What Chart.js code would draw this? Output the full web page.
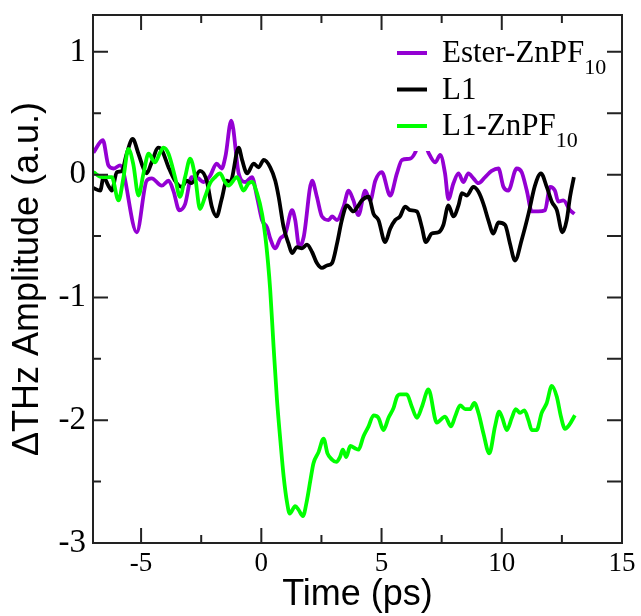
<!DOCTYPE html>
<html>
<head>
<meta charset="utf-8">
<script src="https://cdn.jsdelivr.net/npm/chart.js@4"></script>
<style>
  body { margin: 0; background: #fff; }
  #wrap { width: 641px; height: 616px; }
</style>
</head>
<body>
<div id="wrap"><canvas id="grafico"></canvas></div>
<script>
// Ester-ZnPF10 (purple)
const xEster = [-6.98,-6.59,-6.36,-6.15,-5.87,-5.18,-4.77,-4.56,-4.14,-3.86,-3.66,-3.41,-3.17,-2.90,-2.62,-2.41,-2.13,-1.86,-1.65,-1.49,-1.25,-0.94,-0.66,-0.39,-0.18,0.03,0.24,0.37,0.58,0.79,1.00,1.28,1.41,1.58,1.76,2.11,2.31,2.52,2.80,2.94,3.15,3.42,3.63,3.83,4.04,4.32,4.53,4.74,5.01,5.36,5.64,5.85,6.19,6.40,6.65,6.95,7.23,7.44,7.64,7.78,7.99,8.20,8.40,8.61,8.82,9.03,9.31,9.58,9.86,10.07,10.27,10.62,10.83,11.04,11.25,11.52,11.80,12.01,12.21,12.35,12.56,12.84,13.02];
const yEster = [0.18,0.28,0.075,0.05,0.075,-0.47,-0.05,-0.03,-0.09,-0.05,-0.13,-0.29,-0.24,-0.02,-0.03,-0.06,-0.01,0.09,0.05,0.15,0.44,0.01,-0.06,-0.02,-0.18,-0.37,-0.43,-0.52,-0.60,-0.52,-0.48,-0.29,-0.37,-0.59,-0.51,-0.05,-0.18,-0.34,-0.37,-0.34,-0.37,-0.26,-0.13,-0.21,-0.33,-0.13,-0.21,-0.05,0.02,-0.17,0.01,0.12,0.13,0.18,0.32,0.18,0.10,0.16,0.01,-0.20,-0.07,0.01,-0.06,0.01,-0.03,-0.07,-0.02,0.03,0.05,-0.10,-0.13,0.05,0.02,-0.13,-0.30,-0.30,-0.29,-0.10,-0.13,-0.22,-0.21,-0.29,-0.32];

// L1 (black)
const xL1 = [-6.98,-6.70,-6.56,-6.36,-6.22,-6.01,-5.80,-5.60,-5.35,-5.11,-4.90,-4.77,-4.56,-4.28,-4.14,-3.86,-3.59,-3.31,-3.10,-2.90,-2.55,-2.27,-2.06,-1.86,-1.65,-1.44,-1.29,-0.94,-0.80,-0.59,-0.32,-0.11,0.10,0.37,0.58,0.72,0.93,1.13,1.28,1.48,1.69,1.90,2.11,2.31,2.52,2.73,2.94,3.15,3.35,3.56,3.83,4.04,4.18,4.46,4.67,4.87,5.15,5.36,5.57,5.77,5.98,6.19,6.47,6.68,6.84,7.09,7.37,7.57,7.78,7.99,8.20,8.34,8.55,8.82,9.03,9.24,9.44,9.65,9.86,10.14,10.34,10.55,10.83,11.11,11.38,11.63,11.87,12.08,12.29,12.52,12.70,12.84,13.00];
const yL1 = [-0.11,-0.13,-0.02,-0.09,-0.13,0.02,0.03,0.17,0.29,0.17,0.05,0.01,0.10,0.22,0.20,0.06,-0.05,-0.10,-0.05,-0.07,0.03,-0.05,-0.26,-0.34,-0.20,-0.05,-0.06,0.22,0.12,0.01,0.09,0.06,0.12,0.06,-0.05,-0.18,-0.43,-0.56,-0.64,-0.59,-0.60,-0.57,-0.63,-0.72,-0.76,-0.74,-0.72,-0.56,-0.37,-0.25,-0.30,-0.25,-0.21,-0.18,-0.32,-0.37,-0.55,-0.44,-0.37,-0.34,-0.26,-0.29,-0.30,-0.43,-0.55,-0.48,-0.47,-0.41,-0.25,-0.34,-0.25,-0.15,-0.17,-0.10,-0.14,-0.24,-0.37,-0.48,-0.39,-0.41,-0.56,-0.70,-0.53,-0.32,-0.09,0.01,-0.10,-0.22,-0.29,-0.47,-0.37,-0.18,-0.02];

// L1-ZnPF10 (green)
const xL1Zn = [-6.98,-6.63,-6.22,-5.94,-5.73,-5.53,-5.32,-5.11,-4.90,-4.69,-4.42,-4.21,-4.07,-3.86,-3.59,-3.38,-3.17,-2.96,-2.75,-2.55,-2.34,-2.13,-1.92,-1.72,-1.51,-1.37,-1.01,-0.74,-0.53,-0.39,-0.18,0.03,0.17,0.28,0.37,0.51,0.65,0.79,0.93,1.07,1.18,1.41,1.55,1.73,1.90,2.04,2.17,2.38,2.59,2.75,2.94,3.12,3.27,3.39,3.53,3.70,3.91,4.04,4.25,4.46,4.67,4.87,5.08,5.29,5.50,5.64,5.77,6.05,6.26,6.47,6.68,6.95,7.30,7.64,7.89,8.06,8.27,8.48,8.68,8.86,9.03,9.24,9.48,9.72,9.89,10.02,10.21,10.42,10.58,10.76,10.94,11.11,11.25,11.45,11.66,11.87,12.08,12.29,12.46,12.63,12.80,13.04];
const yL1Zn = [0.02,-0.02,-0.02,-0.21,-0.02,0.21,0.08,-0.17,0.01,0.17,0.10,0.18,0.22,0.17,-0.02,-0.18,-0.02,0.13,-0.02,-0.28,-0.18,-0.07,-0.02,0.01,-0.06,-0.09,-0.02,-0.13,-0.07,-0.06,-0.15,-0.32,-0.51,-0.72,-0.94,-1.40,-1.83,-2.16,-2.46,-2.67,-2.76,-2.70,-2.73,-2.78,-2.65,-2.49,-2.35,-2.26,-2.15,-2.27,-2.32,-2.34,-2.30,-2.24,-2.30,-2.21,-2.23,-2.24,-2.13,-2.05,-1.96,-1.98,-2.08,-1.98,-1.90,-1.81,-1.79,-1.79,-1.89,-1.98,-1.89,-1.75,-2.02,-1.97,-2.05,-1.97,-1.88,-1.91,-1.91,-1.86,-1.94,-2.11,-2.27,-2.05,-1.93,-1.98,-2.08,-1.98,-1.91,-1.94,-1.92,-2.00,-2.08,-2.08,-1.94,-1.86,-1.72,-1.81,-1.97,-2.07,-2.04,-1.96];

const xTicks = [-5, 0, 5, 10, 15];
const xMinor = [-2.5, 2.5, 7.5, 12.5];
const yTicks = [-3, -2, -1, 0, 1];
const yMinor = [-2.5, -1.5, -0.5, 0.5];

const series = [
  { name: "Ester-ZnPF", sub: "10", xs: xEster, ys: yEster, color: "#9400d3" },
  { name: "L1", sub: "", xs: xL1, ys: yL1, color: "#000000" },
  { name: "L1-ZnPF", sub: "10", xs: xL1Zn, ys: yL1Zn, color: "#00ff00" }
];

const serif = "'Liberation Serif', 'Times New Roman', serif";
const sans = "'Liberation Sans', Arial, sans-serif";

// marcos, ticks hacia dentro y leyenda
const marco = {
  id: "marco",
  afterDatasetsDraw(chart) {
    const { ctx, chartArea: a, scales: { x, y } } = chart;
    ctx.save();

    // leyenda (caja blanca tapa las curvas)
    ctx.fillStyle = "#fff";
    ctx.fillRect(a.right - 230, a.top + 10, 222, 126);
    series.forEach((s, i) => {
      const ly = a.top + 38 + i * 36.5;
      ctx.strokeStyle = s.color;
      ctx.lineWidth = 4;
      ctx.beginPath();
      ctx.moveTo(a.right - 225, ly);
      ctx.lineTo(a.right - 195, ly);
      ctx.stroke();
      ctx.fillStyle = "#000";
      ctx.textBaseline = "alphabetic";
      ctx.textAlign = "left";
      ctx.font = "31px " + serif;
      ctx.fillText(s.name, a.right - 180, ly + 9);
      if (s.sub) {
        const w = ctx.measureText(s.name).width;
        ctx.font = "22px " + serif;
        ctx.fillText(s.sub, a.right - 180 + w, ly + 21);
      }
    });

    ctx.strokeStyle = "#222";
    ctx.lineWidth = 2;
    ctx.strokeRect(a.left, a.top, a.right - a.left, a.bottom - a.top);

    ctx.beginPath();
    const tickX = (v, len) => {
      const px = x.getPixelForValue(v);
      ctx.moveTo(px, a.bottom); ctx.lineTo(px, a.bottom - len);
      ctx.moveTo(px, a.top); ctx.lineTo(px, a.top + len);
    };
    xTicks.forEach(v => tickX(v, 15));
    xMinor.forEach(v => tickX(v, 8));
    yTicks.forEach(v => {
      const py = y.getPixelForValue(v);
      ctx.moveTo(a.left, py); ctx.lineTo(a.left + 15, py);
      ctx.moveTo(a.right, py); ctx.lineTo(a.right - 15, py);
    });
    yMinor.forEach(v => {
      const py = y.getPixelForValue(v);
      ctx.moveTo(a.left, py); ctx.lineTo(a.left + 8, py);
      ctx.moveTo(a.right, py); ctx.lineTo(a.right - 15, py);
    });
    ctx.stroke();
    ctx.restore();
  }
};

const grafico = new Chart(document.getElementById("grafico"), {
  type: "line",
  data: {
    datasets: series.map((s, i) => ({
      label: s.name + s.sub,
      data: s.xs.map((v, k) => ({ x: v, y: s.ys[k] })),
      borderColor: s.color,
      borderWidth: 3.8,
      pointRadius: 0,
      fill: false,
      cubicInterpolationMode: "monotone",
      order: 3 - i
    }))
  },
  options: {
    responsive: true,
    maintainAspectRatio: false,
    animation: false,
    layout: { padding: { top: 15, right: 19, left: 0, bottom: 0 } },
    plugins: { legend: { display: false }, tooltip: { enabled: false } },
    scales: {
      x: {
        type: "linear",
        min: -7,
        max: 15,
        afterBuildTicks: scale => { scale.ticks = xTicks.map(v => ({ value: v })); },
        afterFit: scale => {
          scale.height = 73;
          scale.paddingLeft = 0;
          scale.paddingRight = 0;
        },
        grid: { display: false, drawTicks: false },
        border: { display: false },
        ticks: { color: "#000", padding: 5, maxRotation: 0, font: { family: serif, size: 27 } },
        title: {
          display: true,
          text: "Time (ps)",
          color: "#000",
          padding: { top: 0, bottom: 3 },
          font: { family: sans, size: 36, lineHeight: 1 }
        }
      },
      y: {
        type: "linear",
        min: -3,
        max: 1.3,
        afterBuildTicks: scale => { scale.ticks = yTicks.map(v => ({ value: v })); },
        afterFit: scale => {
          scale.width = 93;
          scale.paddingTop = 0;
          scale.paddingBottom = 0;
        },
        grid: { display: false, drawTicks: false },
        border: { display: false },
        ticks: { color: "#000", padding: 7, font: { family: serif, size: 33 } },
        title: {
          display: true,
          text: "\u0394THz Amplitude (a.u.)",
          color: "#000",
          padding: { top: 10, bottom: 0 },
          font: { family: sans, size: 36, lineHeight: 1 }
        }
      }
    }
  },
  plugins: [marco]
});
</script>
</body>
</html>
